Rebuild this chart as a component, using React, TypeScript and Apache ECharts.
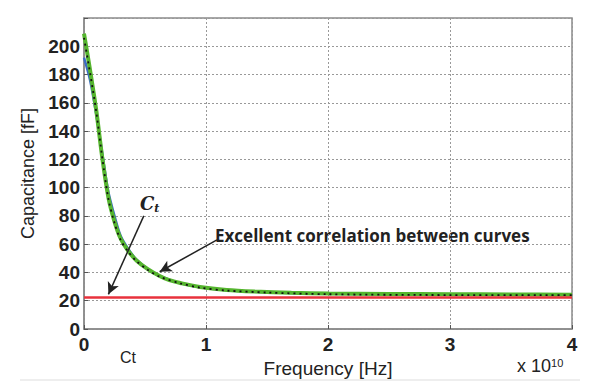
import React, { useEffect, useRef } from "react";
import * as echarts from "echarts";

// Frequency in units of 1e10 Hz
const greenFreq = [0, 0.05, 0.1, 0.15, 0.2, 0.25, 0.3, 0.36, 0.43, 0.52, 0.62, 0.7, 0.79, 0.95, 1.17, 1.4, 1.7, 2.0, 2.5, 3.0, 3.5, 4.0];
const greenCap = [209, 183, 155, 121, 93, 76, 64, 55.5, 48.5, 42.5, 37.5, 34.5, 32.5, 29.7, 27.6, 26.5, 25.6, 25.2, 24.8, 24.6, 24.4, 24.3];

const blueFreq = [0, 0.05, 0.1, 0.15, 0.2, 0.25, 0.3, 0.36, 0.43, 0.52, 0.62, 0.79, 0.95, 1.17, 1.5, 2.0, 3.0, 4.0];
const blueCap = [192, 176, 152, 124, 97, 80, 66, 57, 49, 42.5, 37.5, 32.3, 29.5, 27.4, 26, 25, 24.4, 24.2];

const blackFreq = [0, 0.05, 0.1, 0.15, 0.2, 0.25, 0.3, 0.36, 0.43, 0.52, 0.62, 0.79, 0.95, 1.17, 1.5, 2.0, 3.0, 4.0];
const blackCap = [206, 181, 154, 121, 92, 75, 63, 55, 48, 42, 37, 32.3, 29.3, 27.2, 25.8, 24.6, 24.0, 23.9];

const ctLevel = 22.3;

const arrows = [
  { from: [0.49, 80], to: [0.2, 24.5] },
  { from: [1.09, 63], to: [0.62, 40.5] },
];

const xTicks = [0, 1, 2, 3, 4];
const yMax = 220;

const zip = (a: number[], b: number[]) => a.map((v, i) => [v, b[i]]);

export default function App() {
  const ref = useRef<HTMLDivElement>(null);
  useEffect(() => {
    const chart = echarts.init(ref.current!, null, { renderer: "svg" });
    const labelFont = { color: "#222", fontSize: 19, fontWeight: "bold" as const, fontFamily: "Liberation Sans, Arial, sans-serif" };
    chart.setOption({
      animation: false,
      backgroundColor: "#fff",
      grid: { left: 84, right: 28, top: 18, bottom: 63, show: true, borderColor: "#8a8a8a", borderWidth: 1.5 },
      xAxis: {
        type: "value",
        min: xTicks[0],
        max: xTicks[xTicks.length - 1],
        interval: 1,
        name: "Frequency [Hz]",
        nameLocation: "middle",
        nameGap: 27,
        nameTextStyle: { color: "#222", fontSize: 19, fontFamily: "Liberation Sans, Arial, sans-serif" },
        axisLine: { lineStyle: { color: "#8a8a8a", width: 1.5 } },
        axisTick: { inside: true, length: 4, lineStyle: { color: "#555" } },
        axisLabel: { ...labelFont, margin: 6 },
        splitLine: { show: true, lineStyle: { color: "#999", type: [2, 2], width: 1 } },
      },
      yAxis: {
        type: "value",
        min: 0,
        max: yMax,
        interval: 20,
        name: "Capacitance [fF]",
        nameLocation: "middle",
        nameGap: 44,
        nameRotate: 90,
        nameTextStyle: { color: "#222", fontSize: 18, fontFamily: "Liberation Sans, Arial, sans-serif" },
        axisLine: { show: true, lineStyle: { color: "#8a8a8a", width: 1.5 } },
        axisTick: { show: true, inside: true, length: 4, lineStyle: { color: "#555" } },
        axisLabel: { ...labelFont, margin: 4, formatter: (v: number) => (v === yMax ? "" : String(v)) },
        splitLine: { show: true, lineStyle: { color: "#999", type: [2, 2], width: 1 } },
      },
      series: [
        {
          type: "line",
          data: zip(blueFreq, blueCap),
          smooth: 0.3,
          showSymbol: false,
          lineStyle: { color: "#3b6cc4", width: 2.5 },
          z: 2,
        },
        {
          type: "line",
          data: zip(greenFreq, greenCap),
          smooth: 0.3,
          showSymbol: false,
          lineStyle: { color: "#55b52e", width: 4 },
          z: 3,
          markLine: {
            silent: true,
            symbol: "none",
            label: { show: false },
            lineStyle: { color: "#e8323c", width: 2.5, type: "solid" },
            data: [{ yAxis: ctLevel }],
          },
        },
        {
          type: "line",
          data: zip(blackFreq, blackCap),
          smooth: 0.3,
          showSymbol: false,
          lineStyle: { color: "#111", width: 1.8, type: [2, 4] },
          z: 4,
          markLine: {
            silent: true,
            symbol: ["none", "arrow"],
            symbolSize: [9, 12],
            label: { show: false },
            lineStyle: { color: "#222", width: 1.5, type: "solid" },
            data: arrows.map((a) => [{ coord: a.from }, { coord: a.to }]),
          },
        },
      ],
      graphic: [
        {
          type: "text",
          left: 140,
          top: 194,
          style: {
            text: "{c|C}{t|t}",
            rich: {
              c: { fontSize: 18, fontStyle: "italic", fontWeight: "bold", fontFamily: "DejaVu Serif, serif", fill: "#222" },
              t: { fontSize: 11, fontStyle: "italic", fontWeight: "bold", fontFamily: "DejaVu Serif, serif", fill: "#222", padding: [10, 0, 0, 0] },
            },
          },
        },
        {
          type: "text",
          left: 215,
          top: 227,
          style: { text: "Excellent correlation between curves", fontSize: 17, fontWeight: "bold", fontFamily: "Open Sans, sans-serif", fill: "#222" },
        },
        {
          type: "text",
          left: 120,
          top: 349,
          style: { text: "Ct", fontSize: 16, fontFamily: "Liberation Sans, Arial, sans-serif", fill: "#222" },
        },
        {
          type: "text",
          left: 517,
          top: 357,
          style: {
            text: "{a|x 10}{b|10}",
            rich: {
              a: { fontSize: 18, fontFamily: "Liberation Sans, Arial, sans-serif", fill: "#222", padding: [6, 0, 0, 0] },
              b: { fontSize: 11, fontFamily: "Liberation Sans, Arial, sans-serif", fill: "#222" },
            },
          },
        },
        {
          type: "line",
          shape: { x1: 20, y1: 380, x2: 580, y2: 380 },
          style: { stroke: "#ddd", lineWidth: 1 },
        },
      ],
    });
    return () => chart.dispose();
  }, []);
  return <div ref={ref} style={{ width: 600, height: 392, position: "absolute", left: 0, top: 0 }} />;
}
